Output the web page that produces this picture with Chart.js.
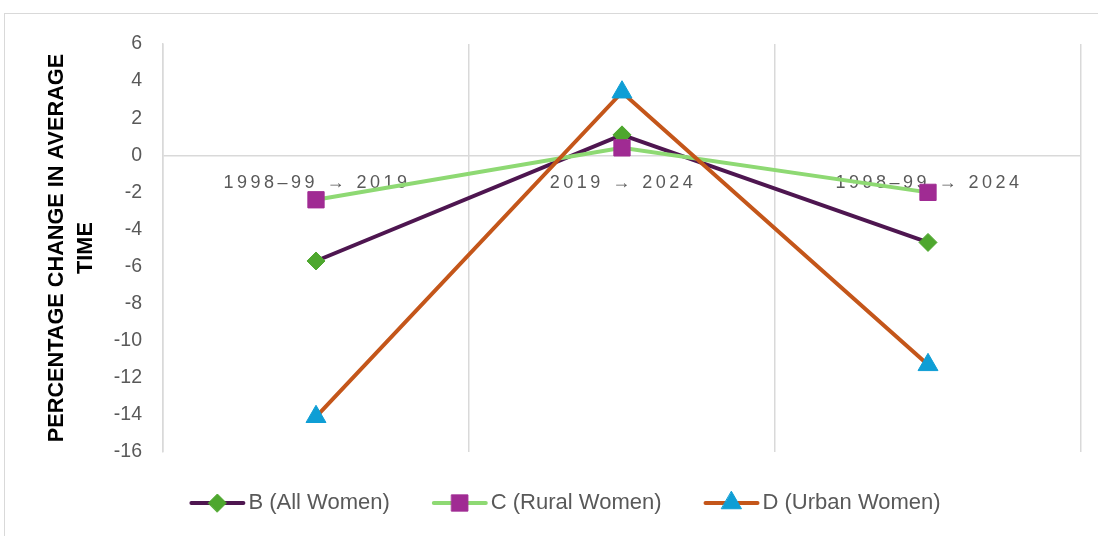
<!DOCTYPE html>
<html>
<head>
<meta charset="utf-8">
<script src="https://cdn.jsdelivr.net/npm/chart.js@4.4.1/dist/chart.umd.min.js"></script>
<style>
  html, body { margin: 0; padding: 0; background: #fff; }
  #frame { position: absolute; left: 4px; top: 13px; width: 1100px; height: 540px; border: 1px solid #d9d9d9; box-sizing: border-box; }
  #wrap { position: absolute; left: 0; top: 0; width: 1098px; height: 536px; }
</style>
</head>
<body>
<div id="frame"></div>
<div id="wrap"><canvas id="trend-chart"></canvas></div>
<script>
// --- Data ---
const periods = ['1998\u201399 \u2192 2019', '2019 \u2192 2024', '1998\u201399 \u2192 2024'];
const allWomen = [-5.7, 1.1, -4.7];
const ruralWomen = [-2.4, 0.4, -2.0];
const urbanWomen = [-14.1, 3.4, -11.3];
const seriesNames = ['B (All Women)', 'C (Rural Women)', 'D (Urban Women)'];
const yTitle = ['PERCENTAGE CHANGE IN AVERAGE', 'TIME'];

const textGray = '#595959';
const gridGray = '#d9d9d9';

// category labels sit just under the zero line, like Excel does it
const periodLabels = {
    id: 'periodLabels',
    beforeDatasetsDraw(chart) {
        const { ctx, scales: { x, y } } = chart;
        const y0 = y.getPixelForValue(0);
        ctx.save();
        ctx.font = '18px "Liberation Sans", Arial, sans-serif';
        ctx.letterSpacing = '3.5px';
        ctx.fillStyle = textGray;
        ctx.textAlign = 'center';
        ctx.textBaseline = 'middle';
        periods.forEach((p, i) => {
            ctx.fillText(p, x.getPixelForValue(i) + 1, y0 + 28);
        });
        ctx.restore();
    }
};

// legend with line + marker, Excel style
const lineLegend = {
    id: 'lineLegend',
    afterDraw(chart) {
        const { ctx } = chart;
        const lineLen = 56, gap = 3, itemGap = 42;
        ctx.save();
        ctx.font = '22px "Liberation Sans", Arial, sans-serif';
        const items = chart.data.datasets.map(ds => ({ ds, w: lineLen + gap + ctx.measureText(ds.label).width }));
        const total = items.reduce((s, it) => s + it.w, 0) + itemGap * (items.length - 1);
        let xPos = 565 - total / 2;
        const yPos = 503;
        items.forEach(({ ds, w }) => {
            ctx.strokeStyle = ds.borderColor;
            ctx.lineWidth = 4;
            ctx.lineCap = 'round';
            ctx.beginPath();
            ctx.moveTo(xPos + 2, yPos);
            ctx.lineTo(xPos + lineLen - 2, yPos);
            ctx.stroke();
            ctx.fillStyle = ds.pointBackgroundColor;
            ctx.strokeStyle = ds.pointBackgroundColor;
            ctx.lineWidth = 1;
            Chart.helpers.drawPoint(ctx, { pointStyle: ds.pointStyle, radius: ds.pointRadius, borderWidth: 1, rotation: 0 }, xPos + lineLen / 2, yPos);
            ctx.fillStyle = textGray;
            ctx.textAlign = 'left';
            ctx.textBaseline = 'middle';
            ctx.fillText(ds.label, xPos + lineLen + gap, yPos);
            xPos += w + itemGap;
        });
        ctx.restore();
    }
};

function initializeChart() {
    const ctx = document.getElementById('trend-chart').getContext('2d');
    return new Chart(ctx, {
        type: 'line',
        data: {
            labels: periods,
            datasets: [
                { label: seriesNames[0], data: allWomen, borderColor: '#4e1650', pointStyle: 'rectRot', pointRadius: 9,
                  pointBackgroundColor: '#4ea72e', pointBorderColor: '#4ea72e', order: 3 },
                { label: seriesNames[1], data: ruralWomen, borderColor: '#8ed973', pointStyle: 'rect', pointRadius: 11.5,
                  pointBackgroundColor: '#a02b93', pointBorderColor: '#a02b93', order: 2 },
                { label: seriesNames[2], data: urbanWomen, borderColor: '#c4561a', pointStyle: 'triangle', pointRadius: 11.5,
                  pointBackgroundColor: '#0f9ed5', pointBorderColor: '#0f9ed5', order: 1 }
            ].map(ds => Object.assign(ds, { borderWidth: 4, tension: 0, pointBorderWidth: 1, pointHoverRadius: ds.pointRadius }))
        },
        options: {
            responsive: true,
            maintainAspectRatio: false,
            animation: false,
            layout: { padding: { left: 0, top: 44, right: 17, bottom: 84 } },
            plugins: { legend: { display: false }, tooltip: { enabled: false } },
            scales: {
                x: {
                    offset: true,
                    grid: { offset: true, color: gridGray, lineWidth: 1.5, drawTicks: false },
                    border: { display: false },
                    ticks: { display: false }
                },
                y: {
                    min: -16,
                    max: 6,
                    afterFit(scale) { scale.width = 163; },
                    grid: {
                        drawTicks: false,
                        lineWidth: 1.5,
                        color: c => (c.tick && c.tick.value === 0 ? gridGray : 'rgba(0,0,0,0)')
                    },
                    border: { display: true, color: gridGray, width: 1.5 },
                    ticks: {
                        stepSize: 2,
                        padding: 21,
                        color: textGray,
                        font: { family: '"Liberation Sans", Arial, sans-serif', size: 19.5 }
                    },
                    title: {
                        display: true,
                        text: yTitle,
                        color: '#000',
                        font: { family: '"Liberation Sans", Arial, sans-serif', size: 21.7, weight: 'bold', lineHeight: 1.33 },
                        padding: { top: 43, bottom: 0 }
                    }
                }
            }
        },
        plugins: [periodLabels, lineLegend]
    });
}

document.addEventListener('DOMContentLoaded', initializeChart);
</script>
</body>
</html>
